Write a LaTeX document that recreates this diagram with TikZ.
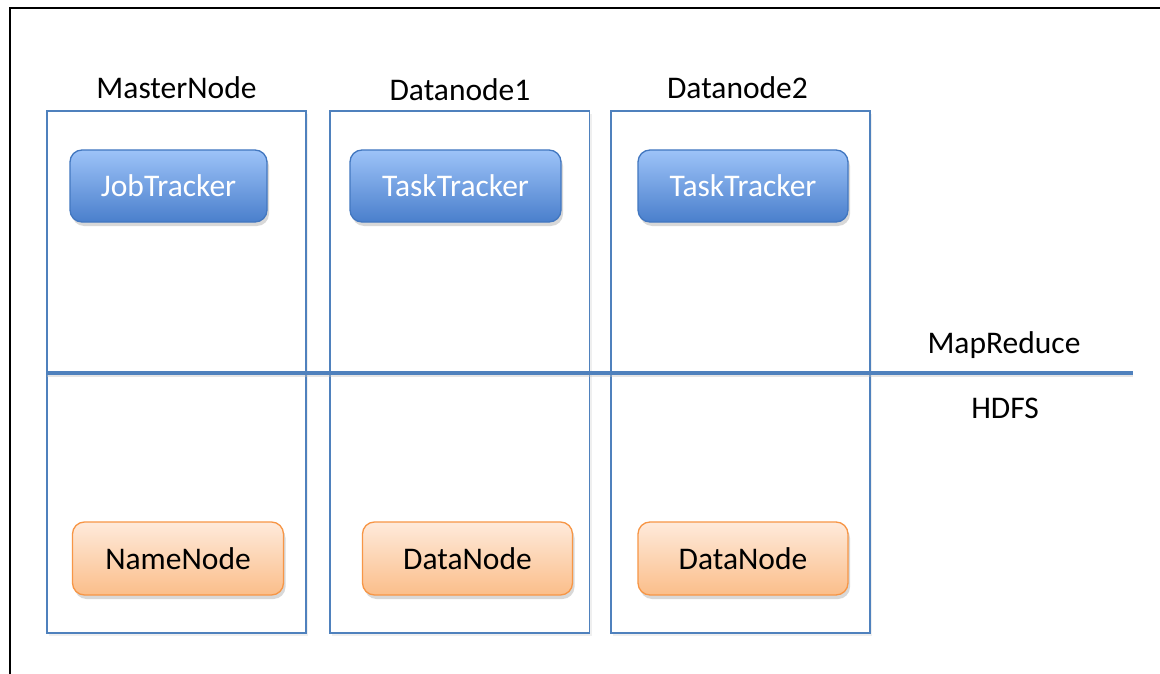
\documentclass[tikz,border=0pt]{standalone}
\usepackage{fontspec}
\setmainfont{Carlito}
\usetikzlibrary{shadows}
\definecolor{officeblue}{HTML}{4F81BD}
\definecolor{blueTop}{HTML}{9DC3F8}
\definecolor{blueBot}{HTML}{4A7FCC}
\definecolor{blueEdge}{HTML}{4277C0}
\definecolor{orTop}{HTML}{FEEADB}
\definecolor{orBot}{HTML}{FBBE8A}
\definecolor{orEdge}{HTML}{F79646}
\tikzset{
  colbox/.style={draw=officeblue, line width=1.6pt, fill=white, inner sep=0pt,
    drop shadow={opacity=0.12, shadow xshift=2pt, shadow yshift=-3pt}},
  bluebox/.style={draw=blueEdge, line width=1.3pt, rounded corners=12pt, inner sep=0pt,
    top color=blueTop, bottom color=blueBot, text=white, minimum height=72pt,
    drop shadow={opacity=0.3, shadow xshift=2pt, shadow yshift=-4pt}},
  orbox/.style={draw=orEdge, line width=1.3pt, rounded corners=12pt, inner sep=0pt,
    top color=orTop, bottom color=orBot, text=black, minimum height=73pt,
    drop shadow={opacity=0.3, shadow xshift=2pt, shadow yshift=-4pt}},
  lbl/.style={inner sep=0pt, anchor=base, text=black},
  divider/.style={draw=officeblue, line width=4.5pt,
    preaction={draw=black!25, line width=4.5pt, transform canvas={yshift=-2pt}, opacity=0.4}}
}
\begin{document}
\begin{tikzpicture}[x=1pt,y=-1pt, font=\fontsize{31.5}{36}\selectfont]
\useasboundingbox (0,0) rectangle (1160,674);
\fill[white] (0,0) rectangle (1160,674);
% outer frame
\draw[black, line width=2.2pt] (10,700) -- (10,8) -- (1200,8);
% column boxes
\node[colbox, minimum width=259pt, minimum height=522pt] (master) at (176.5,372) {};
\node[colbox, minimum width=259.5pt, minimum height=522pt] (dn1) at (459.75,372) {};
\node[colbox, minimum width=259pt, minimum height=522pt] (dn2) at (740.5,372) {};
% column labels
\node[lbl] (lmaster) at (176.5,98.5) {MasterNode};
\node[lbl] (ldn1) at (460,101) {Datanode1};
\node[lbl] (ldn2) at (737.5,99) {Datanode2};
% divider
\coordinate (dl) at (47,373);
\coordinate (dr) at (1133,373);
\draw[divider] (dl) -- (dr);
\node[lbl] (mr) at (1004,353) {MapReduce};
\node[lbl] (hdfs) at (1005,418) {HDFS};
% trackers
\node[bluebox, minimum width=197pt] (jt) at (168.5,186) {JobTracker};
\node[bluebox, minimum width=211pt] (tt1) at (455.5,186) {TaskTracker};
\node[bluebox, minimum width=210pt] (tt2) at (743,186) {TaskTracker};
% storage
\node[orbox, minimum width=211pt] (nn) at (178,558.5) {NameNode};
\node[orbox, minimum width=210pt] (dnode1) at (467.5,558.5) {DataNode};
\node[orbox, minimum width=210pt] (dnode2) at (743,558.5) {DataNode};
\end{tikzpicture}
\end{document}
